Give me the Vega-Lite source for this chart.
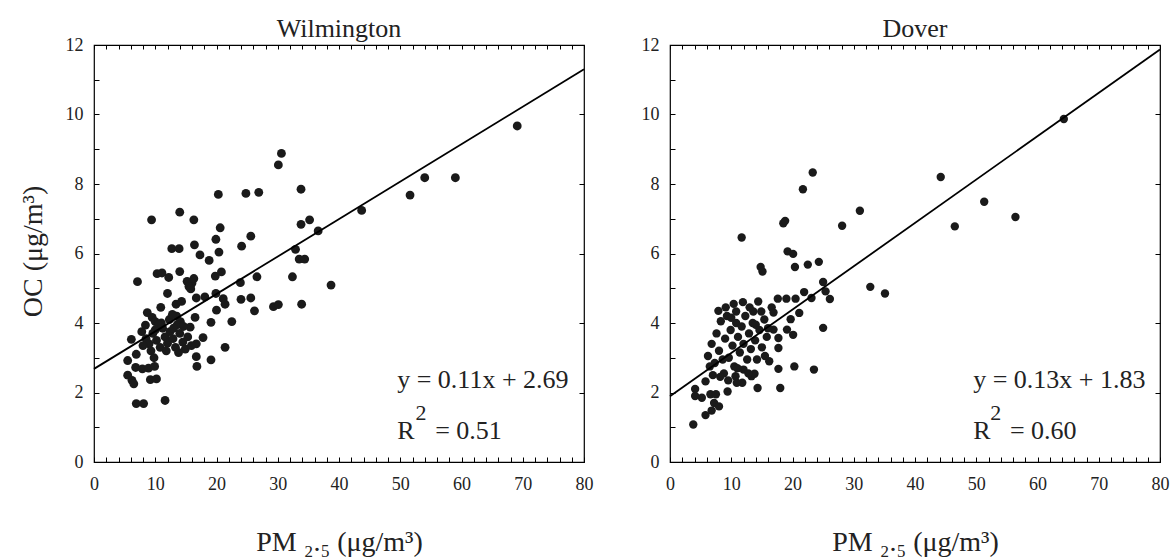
{
  "$schema": "https://vega.github.io/schema/vega-lite/v6.json",
  "background": "white",
  "padding": {"left": 18, "top": 15, "right": 5, "bottom": 0},
  "spacing": 46,
  "config": {
    "font": "Liberation Serif",
    "view": {"stroke": "#000", "strokeWidth": 1.2},
    "axis": {
      "grid": false,
      "domain": false,
      "tickColor": "#000",
      "tickWidth": 1,
      "labelFont": "Liberation Serif",
      "labelFontSize": 18,
      "labelColor": "#222",
      "labelFlush": false,
      "labelOverlap": false,
      "titleFont": "Liberation Serif",
      "titleFontWeight": "normal",
      "titleColor": "#222"
    }
  },
  "datasets": {
    "wilm": [
      {"pm": 9.4, "oc": 6.97}, {"pm": 14.0, "oc": 7.19}, {"pm": 16.3, "oc": 6.97}, {"pm": 20.3, "oc": 7.70},
      {"pm": 20.6, "oc": 6.74}, {"pm": 19.9, "oc": 6.41}, {"pm": 24.8, "oc": 7.73}, {"pm": 26.9, "oc": 7.76},
      {"pm": 25.6, "oc": 6.50}, {"pm": 30.1, "oc": 8.55}, {"pm": 30.6, "oc": 8.88}, {"pm": 33.8, "oc": 7.85},
      {"pm": 33.8, "oc": 6.84}, {"pm": 35.2, "oc": 6.97}, {"pm": 36.6, "oc": 6.65}, {"pm": 38.7, "oc": 5.09},
      {"pm": 43.7, "oc": 7.24}, {"pm": 51.6, "oc": 7.68}, {"pm": 54.0, "oc": 8.18}, {"pm": 59.0, "oc": 8.18},
      {"pm": 69.1, "oc": 9.67},
      {"pm": 12.7, "oc": 6.14}, {"pm": 13.9, "oc": 6.14}, {"pm": 16.4, "oc": 6.25}, {"pm": 20.4, "oc": 6.04},
      {"pm": 24.1, "oc": 6.21}, {"pm": 17.3, "oc": 5.96}, {"pm": 18.8, "oc": 5.80}, {"pm": 32.9, "oc": 6.12},
      {"pm": 33.5, "oc": 5.84}, {"pm": 34.4, "oc": 5.84}, {"pm": 7.1, "oc": 5.19}, {"pm": 10.3, "oc": 5.42},
      {"pm": 11.1, "oc": 5.44}, {"pm": 12.2, "oc": 5.31}, {"pm": 14.0, "oc": 5.48}, {"pm": 15.2, "oc": 5.20},
      {"pm": 16.0, "oc": 5.15}, {"pm": 15.5, "oc": 5.05}, {"pm": 16.3, "oc": 5.28}, {"pm": 15.8, "oc": 4.98},
      {"pm": 19.8, "oc": 5.35}, {"pm": 20.8, "oc": 5.47}, {"pm": 23.9, "oc": 5.16}, {"pm": 26.6, "oc": 5.33},
      {"pm": 32.4, "oc": 5.33}, {"pm": 12.0, "oc": 4.85}, {"pm": 10.9, "oc": 4.45}, {"pm": 13.4, "oc": 4.54},
      {"pm": 14.3, "oc": 4.62}, {"pm": 16.7, "oc": 4.72}, {"pm": 18.1, "oc": 4.75}, {"pm": 19.9, "oc": 4.85},
      {"pm": 21.1, "oc": 4.70}, {"pm": 21.4, "oc": 4.54}, {"pm": 24.0, "oc": 4.68}, {"pm": 25.6, "oc": 4.72},
      {"pm": 20.0, "oc": 4.37}, {"pm": 26.2, "oc": 4.35}, {"pm": 29.3, "oc": 4.47}, {"pm": 30.1, "oc": 4.53},
      {"pm": 33.9, "oc": 4.54}, {"pm": 8.7, "oc": 4.30}, {"pm": 9.5, "oc": 4.16}, {"pm": 8.4, "oc": 3.94},
      {"pm": 10.0, "oc": 4.04}, {"pm": 13.5, "oc": 4.20}, {"pm": 14.1, "oc": 4.04}, {"pm": 16.5, "oc": 4.16},
      {"pm": 15.7, "oc": 3.88}, {"pm": 19.1, "oc": 4.02}, {"pm": 22.5, "oc": 4.04}, {"pm": 6.1, "oc": 3.53},
      {"pm": 17.8, "oc": 3.58}, {"pm": 16.7, "oc": 3.40}, {"pm": 21.4, "oc": 3.30}, {"pm": 5.5, "oc": 2.92},
      {"pm": 6.9, "oc": 3.10}, {"pm": 6.8, "oc": 2.72}, {"pm": 7.9, "oc": 2.68}, {"pm": 8.9, "oc": 2.70},
      {"pm": 9.9, "oc": 2.75}, {"pm": 5.5, "oc": 2.50}, {"pm": 6.2, "oc": 2.35}, {"pm": 6.5, "oc": 2.25},
      {"pm": 9.2, "oc": 2.37}, {"pm": 10.2, "oc": 2.39}, {"pm": 16.7, "oc": 3.03}, {"pm": 16.8, "oc": 2.75},
      {"pm": 19.1, "oc": 2.94}, {"pm": 6.9, "oc": 1.68}, {"pm": 8.1, "oc": 1.68}, {"pm": 11.6, "oc": 1.77},
      {"pm": 7.8, "oc": 3.75}, {"pm": 8.5, "oc": 3.55}, {"pm": 9.0, "oc": 3.40}, {"pm": 9.6, "oc": 3.70},
      {"pm": 10.2, "oc": 3.50}, {"pm": 10.8, "oc": 3.30}, {"pm": 11.2, "oc": 3.85}, {"pm": 11.6, "oc": 3.60},
      {"pm": 12.0, "oc": 3.42}, {"pm": 12.4, "oc": 3.75}, {"pm": 12.9, "oc": 3.55}, {"pm": 13.3, "oc": 3.30},
      {"pm": 13.6, "oc": 3.95}, {"pm": 14.0, "oc": 3.70}, {"pm": 14.5, "oc": 3.45}, {"pm": 14.9, "oc": 3.25},
      {"pm": 15.3, "oc": 3.60}, {"pm": 11.0, "oc": 4.00}, {"pm": 12.3, "oc": 4.10}, {"pm": 9.3, "oc": 3.20},
      {"pm": 10.6, "oc": 3.95}, {"pm": 13.0, "oc": 3.85}, {"pm": 8.0, "oc": 3.35}, {"pm": 11.8, "oc": 3.20},
      {"pm": 14.6, "oc": 3.90}, {"pm": 15.9, "oc": 3.35}, {"pm": 12.8, "oc": 4.25}, {"pm": 10.0, "oc": 3.80},
      {"pm": 9.8, "oc": 3.00}, {"pm": 13.8, "oc": 3.15}
    ],
    "dover": [
      {"pm": 11.7, "oc": 6.46}, {"pm": 18.5, "oc": 6.87}, {"pm": 18.8, "oc": 6.94}, {"pm": 21.7, "oc": 7.85},
      {"pm": 23.3, "oc": 8.33}, {"pm": 28.1, "oc": 6.80}, {"pm": 31.0, "oc": 7.23}, {"pm": 44.2, "oc": 8.20},
      {"pm": 46.5, "oc": 6.78}, {"pm": 51.3, "oc": 7.49}, {"pm": 56.4, "oc": 7.05}, {"pm": 64.3, "oc": 9.87},
      {"pm": 19.2, "oc": 6.06}, {"pm": 20.1, "oc": 5.99}, {"pm": 14.8, "oc": 5.61}, {"pm": 15.1, "oc": 5.48},
      {"pm": 20.4, "oc": 5.61}, {"pm": 22.5, "oc": 5.68}, {"pm": 24.3, "oc": 5.76}, {"pm": 25.0, "oc": 5.18},
      {"pm": 25.4, "oc": 4.91}, {"pm": 26.1, "oc": 4.69}, {"pm": 32.7, "oc": 5.04}, {"pm": 35.1, "oc": 4.85},
      {"pm": 21.9, "oc": 4.89}, {"pm": 23.1, "oc": 4.72}, {"pm": 14.4, "oc": 4.62}, {"pm": 13.6, "oc": 4.33},
      {"pm": 14.9, "oc": 4.33}, {"pm": 17.6, "oc": 4.70}, {"pm": 19.0, "oc": 4.70}, {"pm": 20.5, "oc": 4.70},
      {"pm": 16.6, "oc": 4.45}, {"pm": 16.9, "oc": 4.30}, {"pm": 19.7, "oc": 4.11}, {"pm": 21.1, "oc": 4.29},
      {"pm": 25.0, "oc": 3.86}, {"pm": 10.8, "oc": 4.33}, {"pm": 16.9, "oc": 3.81}, {"pm": 17.7, "oc": 3.57},
      {"pm": 17.7, "oc": 3.28}, {"pm": 19.1, "oc": 3.81}, {"pm": 20.1, "oc": 3.66}, {"pm": 17.7, "oc": 2.68},
      {"pm": 20.3, "oc": 2.75}, {"pm": 23.5, "oc": 2.66}, {"pm": 18.0, "oc": 2.13}, {"pm": 14.3, "oc": 2.13},
      {"pm": 13.3, "oc": 2.47}, {"pm": 13.8, "oc": 2.54}, {"pm": 11.8, "oc": 2.28}, {"pm": 12.0, "oc": 2.66},
      {"pm": 10.7, "oc": 2.47}, {"pm": 10.9, "oc": 2.28}, {"pm": 9.4, "oc": 2.03}, {"pm": 5.8, "oc": 2.32},
      {"pm": 4.1, "oc": 2.10}, {"pm": 4.1, "oc": 1.90}, {"pm": 5.2, "oc": 1.85}, {"pm": 6.6, "oc": 1.95},
      {"pm": 7.5, "oc": 1.95}, {"pm": 7.2, "oc": 1.70}, {"pm": 8.0, "oc": 1.60}, {"pm": 6.8, "oc": 1.48},
      {"pm": 5.8, "oc": 1.35}, {"pm": 3.8, "oc": 1.08},
      {"pm": 6.2, "oc": 3.05}, {"pm": 6.8, "oc": 3.40}, {"pm": 7.3, "oc": 2.85}, {"pm": 7.6, "oc": 3.70},
      {"pm": 8.0, "oc": 3.20}, {"pm": 8.3, "oc": 4.05}, {"pm": 8.6, "oc": 2.95}, {"pm": 9.0, "oc": 3.55},
      {"pm": 9.3, "oc": 4.20}, {"pm": 9.6, "oc": 3.00}, {"pm": 9.9, "oc": 3.80}, {"pm": 10.2, "oc": 3.35},
      {"pm": 10.5, "oc": 2.75}, {"pm": 10.8, "oc": 4.00}, {"pm": 11.1, "oc": 3.60}, {"pm": 11.4, "oc": 3.15},
      {"pm": 11.7, "oc": 3.90}, {"pm": 12.0, "oc": 3.40}, {"pm": 12.3, "oc": 4.20}, {"pm": 12.6, "oc": 2.95},
      {"pm": 12.9, "oc": 3.70}, {"pm": 13.2, "oc": 3.25}, {"pm": 13.5, "oc": 4.00}, {"pm": 13.9, "oc": 3.50},
      {"pm": 14.2, "oc": 2.95}, {"pm": 14.6, "oc": 3.80}, {"pm": 15.0, "oc": 3.30}, {"pm": 15.4, "oc": 4.10},
      {"pm": 15.8, "oc": 3.60}, {"pm": 16.2, "oc": 2.90}, {"pm": 7.0, "oc": 2.50}, {"pm": 8.8, "oc": 2.55},
      {"pm": 9.5, "oc": 2.35}, {"pm": 11.0, "oc": 2.70}, {"pm": 12.8, "oc": 2.55}, {"pm": 7.9, "oc": 4.35},
      {"pm": 9.1, "oc": 4.45}, {"pm": 10.4, "oc": 4.55}, {"pm": 6.5, "oc": 2.75}, {"pm": 8.2, "oc": 2.45},
      {"pm": 13.0, "oc": 4.45}, {"pm": 11.9, "oc": 4.60}, {"pm": 10.0, "oc": 4.15}, {"pm": 15.5, "oc": 3.05},
      {"pm": 14.0, "oc": 3.95}, {"pm": 16.0, "oc": 3.85}
    ],
    "wilm_fit": [{"pm": 0, "oc": 2.68}, {"pm": 80, "oc": 11.3}],
    "dover_fit": [{"pm": 0, "oc": 1.89}, {"pm": 80, "oc": 11.87}],
    "wilm_txt": [
      {"pm": 49.5, "oc": 2.14, "t": "y = 0.11x + 2.69", "part": "main"},
      {"pm": 49.5, "oc": 0.65, "t": "R", "part": "main"},
      {"pm": 52.5, "oc": 1.22, "t": "2", "part": "sup"},
      {"pm": 55.7, "oc": 0.65, "t": "= 0.51", "part": "main"}
    ],
    "dover_txt": [
      {"pm": 49.5, "oc": 2.14, "t": "y = 0.13x + 1.83", "part": "main"},
      {"pm": 49.5, "oc": 0.65, "t": "R", "part": "main"},
      {"pm": 52.3, "oc": 1.22, "t": "2", "part": "sup"},
      {"pm": 55.5, "oc": 0.65, "t": "= 0.60", "part": "main"}
    ]
  },
  "hconcat": [
    {
      "width": 490,
      "height": 417,
      "title": {"text": "Wilmington", "fontSize": 26, "fontWeight": "normal", "font": "Liberation Serif", "color": "#222", "anchor": "middle", "frame": "group", "baseline": "alphabetic", "offset": -27},
      "resolve": {"axis": {"x": "independent", "y": "independent"}},
      "layer": [
        {
          "data": {"name": "wilm"},
          "mark": {"type": "circle", "size": 78, "opacity": 1, "color": "#1a1a1a"},
          "encoding": {
            "x": {"field": "pm", "type": "quantitative", "scale": {"domain": [0, 80], "nice": false},
              "axis": {"orient": "bottom", "values": [0,2,4,6,8,10,12,14,16,18,20,22,24,26,28,30,32,34,36,38,40,42,44,46,48,50,52,54,56,58,60,62,64,66,68,70,72,74,76,78,80],
                "labelExpr": "datum.value % 10 === 0 ? datum.label : ''", "tickSize": -5, "labelPadding": 18, "labelFont": "Liberation Serif",
                "title": "PM ₂.₅ (μg/m³)", "titleFontSize": 28, "titleY": 88, "titleBaseline": "alphabetic"}},
            "y": {"field": "oc", "type": "quantitative", "scale": {"domain": [0, 12], "nice": false},
              "axis": {"orient": "left", "values": [0,1,2,3,4,5,6,7,8,9,10,11,12],
                "labelExpr": "datum.value % 2 === 0 ? datum.label : ''", "tickSize": -5, "labelPadding": 16, "labelFont": "Liberation Serif",
                "title": "OC (μg/m³)", "titleFontSize": 28, "titleX": -53, "titleY": 206, "titleBaseline": "alphabetic", "titleAngle": -90}}
          }
        },
        {
          "data": {"name": "wilm_fit"},
          "mark": {"type": "line", "color": "#000", "strokeWidth": 1.8},
          "encoding": {
            "x": {"field": "pm", "type": "quantitative", "scale": {"domain": [0, 80], "nice": false},
              "axis": {"orient": "top", "values": [0,2,4,6,8,10,12,14,16,18,20,22,24,26,28,30,32,34,36,38,40,42,44,46,48,50,52,54,56,58,60,62,64,66,68,70,72,74,76,78,80], "labels": false, "tickSize": -4, "title": null, "minExtent": 0, "maxExtent": 0}},
            "y": {"field": "oc", "type": "quantitative", "scale": {"domain": [0, 12], "nice": false},
              "axis": {"orient": "right", "values": [0,2,4,6,8,10,12], "labels": false, "tickSize": -5, "title": null, "minExtent": 0, "maxExtent": 0}}
          }
        },
        {
          "data": {"name": "wilm_txt"},
          "transform": [{"filter": "datum.part === 'main'"}],
          "mark": {"type": "text", "align": "left", "baseline": "alphabetic", "font": "Liberation Serif", "fontSize": 26, "color": "#222"},
          "encoding": {
            "x": {"field": "pm", "type": "quantitative", "scale": {"domain": [0, 80], "nice": false}, "axis": null},
            "y": {"field": "oc", "type": "quantitative", "scale": {"domain": [0, 12], "nice": false}, "axis": null},
            "text": {"field": "t"}
          }
        },
        {
          "data": {"name": "wilm_txt"},
          "transform": [{"filter": "datum.part === 'sup'"}],
          "mark": {"type": "text", "align": "left", "baseline": "alphabetic", "font": "Liberation Serif", "fontSize": 22, "color": "#222"},
          "encoding": {
            "x": {"field": "pm", "type": "quantitative", "scale": {"domain": [0, 80], "nice": false}, "axis": null},
            "y": {"field": "oc", "type": "quantitative", "scale": {"domain": [0, 12], "nice": false}, "axis": null},
            "text": {"field": "t"}
          }
        }
      ]
    },
    {
      "width": 490,
      "height": 417,
      "title": {"text": "Dover", "fontSize": 26, "fontWeight": "normal", "font": "Liberation Serif", "color": "#222", "anchor": "middle", "frame": "group", "baseline": "alphabetic", "offset": -27},
      "resolve": {"axis": {"x": "independent", "y": "independent"}},
      "layer": [
        {
          "data": {"name": "dover"},
          "mark": {"type": "circle", "size": 70, "opacity": 1, "color": "#1a1a1a"},
          "encoding": {
            "x": {"field": "pm", "type": "quantitative", "scale": {"domain": [0, 80], "nice": false},
              "axis": {"orient": "bottom", "values": [0,2,4,6,8,10,12,14,16,18,20,22,24,26,28,30,32,34,36,38,40,42,44,46,48,50,52,54,56,58,60,62,64,66,68,70,72,74,76,78,80],
                "labelExpr": "datum.value % 10 === 0 ? datum.label : ''", "tickSize": -5, "labelPadding": 18, "labelFont": "Liberation Serif",
                "title": "PM ₂.₅ (μg/m³)", "titleFontSize": 28, "titleY": 88, "titleBaseline": "alphabetic"}},
            "y": {"field": "oc", "type": "quantitative", "scale": {"domain": [0, 12], "nice": false},
              "axis": {"orient": "left", "values": [0,1,2,3,4,5,6,7,8,9,10,11,12],
                "labelExpr": "datum.value % 2 === 0 ? datum.label : ''", "tickSize": -5, "labelPadding": 16, "labelFont": "Liberation Serif", "title": null}}
          }
        },
        {
          "data": {"name": "dover_fit"},
          "mark": {"type": "line", "color": "#000", "strokeWidth": 1.8},
          "encoding": {
            "x": {"field": "pm", "type": "quantitative", "scale": {"domain": [0, 80], "nice": false},
              "axis": {"orient": "top", "values": [0,2,4,6,8,10,12,14,16,18,20,22,24,26,28,30,32,34,36,38,40,42,44,46,48,50,52,54,56,58,60,62,64,66,68,70,72,74,76,78,80], "labels": false, "tickSize": -4, "title": null, "minExtent": 0, "maxExtent": 0}},
            "y": {"field": "oc", "type": "quantitative", "scale": {"domain": [0, 12], "nice": false},
              "axis": {"orient": "right", "values": [0,2,4,6,8,10,12], "labels": false, "tickSize": -5, "title": null, "minExtent": 0, "maxExtent": 0}}
          }
        },
        {
          "data": {"name": "dover_txt"},
          "transform": [{"filter": "datum.part === 'main'"}],
          "mark": {"type": "text", "align": "left", "baseline": "alphabetic", "font": "Liberation Serif", "fontSize": 26, "color": "#222"},
          "encoding": {
            "x": {"field": "pm", "type": "quantitative", "scale": {"domain": [0, 80], "nice": false}, "axis": null},
            "y": {"field": "oc", "type": "quantitative", "scale": {"domain": [0, 12], "nice": false}, "axis": null},
            "text": {"field": "t"}
          }
        },
        {
          "data": {"name": "dover_txt"},
          "transform": [{"filter": "datum.part === 'sup'"}],
          "mark": {"type": "text", "align": "left", "baseline": "alphabetic", "font": "Liberation Serif", "fontSize": 22, "color": "#222"},
          "encoding": {
            "x": {"field": "pm", "type": "quantitative", "scale": {"domain": [0, 80], "nice": false}, "axis": null},
            "y": {"field": "oc", "type": "quantitative", "scale": {"domain": [0, 12], "nice": false}, "axis": null},
            "text": {"field": "t"}
          }
        }
      ]
    }
  ]
}
